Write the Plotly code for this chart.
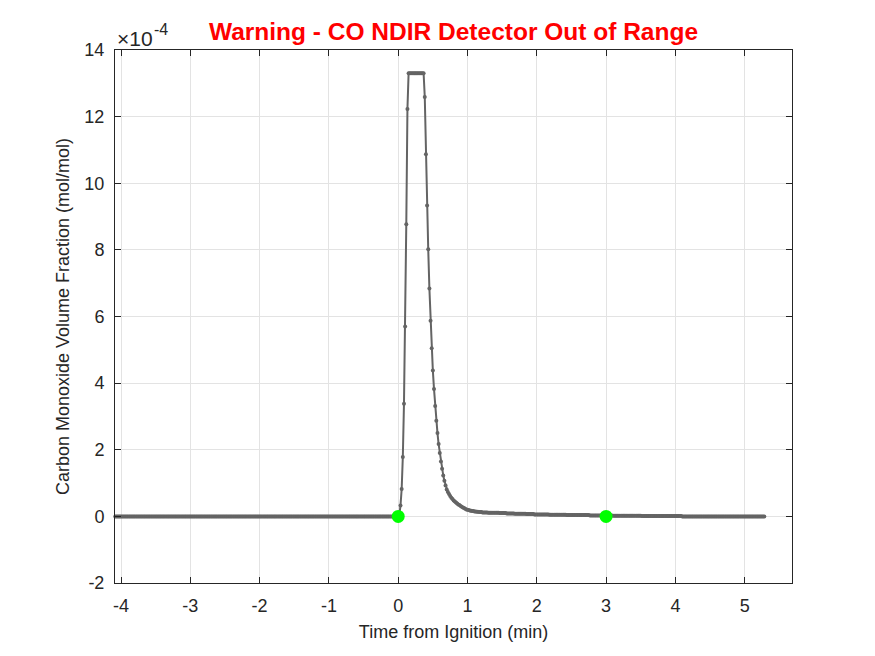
import numpy as np
import plotly.graph_objects as go

# ---- data (CO volume fraction in units of 1e-4 mol/mol, sampled every 1 s) ----
sample_start_s = -245
sample_end_s = 317

co_pre_ignition = [
    0, 0, 0, 0, 0, 0, 0, 0, 0, 0, 0, 0, 0, 0, 0, 0, 0, 0, 0, 0, 0, 0, 0, 0, 0, 0, 0, 0, 0, 0,
    0, 0, 0, 0, 0, 0, 0, 0, 0, 0, 0, 0, 0, 0, 0, 0, 0, 0, 0, 0, 0, 0, 0, 0, 0, 0, 0, 0, 0, 0,
    0, 0, 0, 0, 0, 0, 0, 0, 0, 0, 0, 0, 0, 0, 0, 0, 0, 0, 0, 0, 0, 0, 0, 0, 0, 0, 0, 0, 0, 0,
    0, 0, 0, 0, 0, 0, 0, 0, 0, 0, 0, 0, 0, 0, 0, 0, 0, 0, 0, 0, 0, 0, 0, 0, 0, 0, 0, 0, 0, 0,
    0, 0, 0, 0, 0, 0, 0, 0, 0, 0, 0, 0, 0, 0, 0, 0, 0, 0, 0, 0, 0, 0, 0, 0, 0, 0, 0, 0, 0, 0,
    0, 0, 0, 0, 0, 0, 0, 0, 0, 0, 0, 0, 0, 0, 0, 0, 0, 0, 0, 0, 0, 0, 0, 0, 0, 0, 0, 0, 0, 0,
    0, 0, 0, 0, 0, 0, 0, 0, 0, 0, 0, 0, 0, 0, 0, 0, 0, 0, 0, 0, 0, 0, 0, 0, 0, 0, 0, 0, 0, 0,
    0, 0, 0, 0, 0, 0, 0, 0, 0, 0, 0, 0, 0, 0, 0, 0, 0, 0, 0, 0, 0, 0, 0, 0, 0, 0, 0, 0, 0, 0,
    0, 0, 0, 0, 0,
]

co_peak = [
    0.00, 0.05, 0.33, 0.82, 1.78, 3.38, 5.70, 8.77, 12.23,
    13.3, 13.3, 13.3, 13.3, 13.3, 13.3, 13.3, 13.3, 13.3, 13.3, 13.3, 13.3, 13.3, 13.3,
    12.59, 10.87, 9.33, 8.02, 6.84, 5.87, 5.05, 4.38, 3.82, 3.31,
    2.87, 2.50, 2.17, 1.90, 1.65, 1.43, 1.23, 1.07, 0.93, 0.81,
    0.73, 0.67, 0.61, 0.56, 0.52, 0.48, 0.45, 0.42, 0.39, 0.36,
    0.34, 0.31, 0.29, 0.27, 0.25, 0.23, 0.21, 0.20, 0.19, 0.18,
    0.17, 0.16, 0.16, 0.15, 0.15, 0.14, 0.14, 0.13, 0.13, 0.13,
    0.12, 0.12, 0.12, 0.12, 0.12, 0.11, 0.11, 0.11, 0.11, 0.11,
    0.11, 0.11, 0.11, 0.11, 0.11, 0.10, 0.10, 0.10,
]

co_tail = [
    0.10, 0.10, 0.10, 0.09, 0.09, 0.09, 0.09, 0.09, 0.09, 0.09,
    0.08, 0.08, 0.08, 0.08, 0.08, 0.08, 0.08, 0.08, 0.08, 0.08,
    0.07, 0.07, 0.07, 0.07, 0.07, 0.07, 0.07, 0.06, 0.06, 0.06,
    0.06, 0.06, 0.06, 0.06, 0.06, 0.06, 0.06, 0.06, 0.06, 0.06,
    0.05, 0.05, 0.05, 0.05, 0.05, 0.05, 0.05, 0.05, 0.05, 0.05,
    0.05, 0.05, 0.05, 0.05, 0.05, 0.04, 0.04, 0.04, 0.04, 0.04,
    0.04, 0.04, 0.04, 0.04, 0.04, 0.04, 0.04, 0.04, 0.04, 0.04,
    0.04, 0.04, 0.04, 0.04, 0.04, 0.03, 0.03, 0.03, 0.03, 0.03,
    0.03, 0.03, 0.03, 0.03, 0.03, 0.03, 0.03, 0.03, 0.03, 0.03,
    0.03, 0.03, 0.03, 0.03, 0.03, 0.02, 0.02, 0.02, 0.02, 0.02,
    0.02, 0.02, 0.02, 0.02, 0.02, 0.02, 0.02, 0.02, 0.02, 0.02,
    0.02, 0.02, 0.02, 0.02, 0.02, 0.02, 0.02, 0.02, 0.02, 0.02,
    0.01, 0.01, 0.01, 0.01, 0.01, 0.01, 0.01, 0.01, 0.01, 0.01,
    0.01, 0.01, 0.01, 0.01, 0.01, 0.01, 0.01, 0.01, 0.01, 0.01,
    0.01, 0.01, 0.01, 0.01, 0.01, 0.01, 0.01, 0.01, 0.01, 0.01,
    0.01, 0.01, 0.01, 0.01, 0.01, 0.00, 0.00, 0.00, 0.00, 0.00,
    0.00, 0.00, 0.00, 0.00, 0.00, 0.00, 0.00, 0.00, 0.00, 0.00,
    0, 0, 0, 0, 0, 0, 0, 0, 0, 0, 0, 0, 0, 0, 0, 0, 0, 0, 0, 0,
    0, 0, 0, 0, 0, 0, 0, 0, 0, 0, 0, 0, 0, 0, 0, 0, 0, 0, 0, 0,
    0, 0, 0, 0, 0, 0, 0, 0, 0, 0, 0, 0, 0, 0, 0, 0, 0,
]

event_times_min = [0, 3]
event_values = [0, 0]

x_tick_vals = [-4, -3, -2, -1, 0, 1, 2, 3, 4, 5]
x_tick_text = ["-4", "-3", "-2", "-1", "0", "1", "2", "3", "4", "5"]
y_tick_vals = [-2, 0, 2, 4, 6, 8, 10, 12, 14]
y_tick_text = ["-2", "0", "2", "4", "6", "8", "10", "12", "14"]

co_values = co_pre_ignition + co_peak + co_tail
time_min = np.arange(sample_start_s, sample_end_s + 1) / 60.0
n = min(len(time_min), len(co_values))
time_min = time_min[:n]
co_values = co_values[:n]

FONT = "Liberation Sans, Arial, Helvetica, sans-serif"
AX = "#262626"
GRID = "#e3e3e3"

fig = go.Figure()
fig.add_trace(go.Scatter(
    x=time_min, y=co_values, mode="lines+markers",
    line=dict(color="rgb(100,100,100)", width=2),
    marker=dict(color="rgb(100,100,100)", size=4),
    showlegend=False, cliponaxis=False,
))
fig.add_trace(go.Scatter(
    x=event_times_min, y=event_values, mode="markers",
    marker=dict(color="#00ff00", size=13),
    showlegend=False, cliponaxis=False,
))

fig.update_layout(
    width=875, height=656,
    margin=dict(l=115, r=83, t=50, b=73),
    paper_bgcolor="white", plot_bgcolor="white",
    font=dict(family=FONT, color=AX, size=18),
    title=dict(
        text="<b>Warning - CO NDIR Detector Out of Range</b>",
        font=dict(family=FONT, color="#ff0000", size=24.5),
        x=0.5, xref="paper", xanchor="center",
        y=1, yref="paper", yanchor="bottom", pad=dict(b=10),
    ),
    xaxis=dict(
        range=[-4.087, 5.683], tickvals=x_tick_vals, ticktext=x_tick_text,
        showgrid=True, gridcolor=GRID, gridwidth=1,
        zeroline=False, showline=True, linecolor=AX, linewidth=1,
        mirror="allticks", ticks="inside", ticklen=6, tickcolor=AX,
        tickfont=dict(size=18, color=AX), ticklabelstandoff=6,
        title=dict(text="Time from Ignition (min)", font=dict(size=18, color=AX), standoff=10),
    ),
    yaxis=dict(
        range=[-2, 14], tickvals=y_tick_vals, ticktext=y_tick_text,
        showgrid=True, gridcolor=GRID, gridwidth=1,
        zeroline=False, showline=True, linecolor=AX, linewidth=1,
        mirror="allticks", ticks="inside", ticklen=6, tickcolor=AX,
        tickfont=dict(size=18, color=AX), ticklabelstandoff=6,
        title=dict(text="Carbon Monoxide Volume Fraction (mol/mol)", font=dict(size=18, color=AX), standoff=10),
    ),
    annotations=[
        dict(text="×10", xref="paper", yref="paper", x=0, y=1,
             xanchor="left", yanchor="middle", showarrow=False,
             font=dict(family=FONT, size=21, color=AX), xshift=0, yshift=12),
        dict(text="-4", xref="paper", yref="paper", x=0, y=1,
             xanchor="left", yanchor="middle", showarrow=False,
             font=dict(family=FONT, size=16, color=AX), xshift=37, yshift=21),
    ],
)

fig.write_html("out.html")
